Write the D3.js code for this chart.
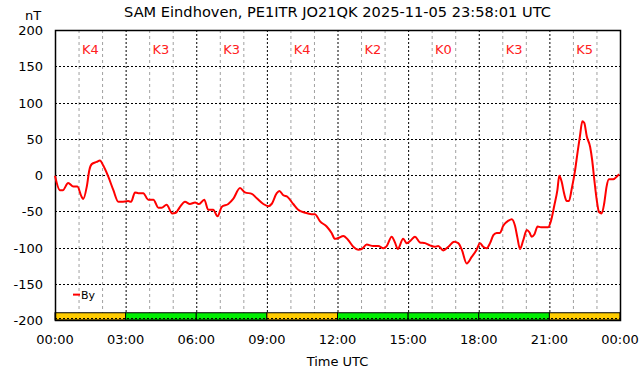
<!DOCTYPE html>
<html>
<head>
<meta charset="utf-8">
<script src="https://cdn.jsdelivr.net/npm/d3@7"></script>
<style>
    body { margin: 0; background: #fff; }
    svg { font-family: 'DejaVu Sans', sans-serif; }
</style>
</head>
<body>
<div id="chart"></div>
<script>
// By component, hours since 00:00 UTC and nT
let byHours = [
    0.00, 0.21, 0.33, 0.56, 0.78, 0.95, 1.13, 1.20, 1.35, 1.46, 1.56, 1.77, 1.91, 2.05, 2.26, 2.48, 2.69, 2.83,
    3.11, 3.23, 3.40, 3.54, 3.75, 3.96, 4.18, 4.39, 4.53, 4.74, 4.98, 5.13, 5.31, 5.52, 5.73, 5.95, 6.12, 6.34,
    6.51, 6.72, 6.91, 7.08, 7.36, 7.57, 7.86, 8.07, 8.36, 8.57, 8.85, 9.06, 9.20, 9.42, 9.53, 9.70, 9.87, 10.12,
    10.33, 10.62, 10.90, 11.04, 11.26, 11.54, 11.75, 11.89, 12.03, 12.25, 12.46, 12.67, 12.88, 13.03, 13.24, 13.52,
    13.73, 13.95, 14.09, 14.30, 14.44, 14.56, 14.79, 14.94, 15.12, 15.29, 15.50, 15.72, 15.93, 16.14, 16.28, 16.49,
    16.71, 16.95, 17.13, 17.28, 17.49, 17.70, 17.91, 18.05, 18.19, 18.34, 18.48, 18.62, 18.76, 18.90, 19.04, 19.26,
    19.40, 19.54, 19.64, 19.75, 19.89, 20.04, 20.15, 20.25, 20.36, 20.50, 20.64, 20.95, 21.07, 21.21, 21.34, 21.42,
    21.52, 21.63, 21.74, 21.83, 21.95, 22.09, 22.20, 22.30, 22.40, 22.48, 22.59, 22.73, 22.82, 22.91, 23.01, 23.11,
    23.22, 23.33, 23.43, 23.53, 23.71, 23.93, 23.97,
];
let byValues = [
    -1, -21, -21, -11, -16, -16, -30, -33, -16, 7, 15, 18, 20, 13, -2, -21, -37, -37,
    -36, -37, -24, -25, -25, -34, -34, -45, -45, -41, -53, -52, -44, -37, -40, -38, -40, -34,
    -48, -48, -57, -44, -40, -33, -18, -24, -26, -32, -40, -43, -40, -25, -22, -28, -30, -40,
    -48, -52, -54, -54, -64, -71, -80, -88, -87, -84, -90, -99, -103, -102, -96, -98,
    -98, -101, -98, -85, -93, -102, -88, -94, -90, -85, -93, -94, -97, -99, -98, -104,
    -99, -92, -94, -103, -122, -113, -103, -94, -99, -101, -94, -83, -80, -80, -70, -63,
    -61, -70, -86, -102, -90, -76, -79, -85, -82, -71, -72, -72, -63, -42, -21, -1,
    -9, -26, -36, -36, -19, 6, 32, 54, 74, 72, 53, 39, 20, -7, -34, -51,
    -53, -39, -16, -6, -6, 0, 1,
];

// K index per 3 hour block
let kIndex = [4, 3, 3, 4, 2, 0, 3, 5];
let xTickLabels = ['00:00', '03:00', '06:00', '09:00', '12:00', '15:00', '18:00', '21:00', '00:00'];
let yTicks = [-200, -150, -100, -50, 0, 50, 100, 150, 200];

let title = 'SAM Eindhoven, PE1ITR JO21QK 2025-11-05 23:58:01 UTC';

let margin = { top: 30, right: 22, bottom: 56, left: 55 };
let width = 642 - margin.left - margin.right;
let height = 376 - margin.top - margin.bottom;

let svg = d3.select('#chart').append('svg').attr('width', 642).attr('height', 376);

let g = svg.append('g').attr('transform', `translate(${margin.left},${margin.top})`);

let x = d3.scaleLinear().domain([0, 24]).range([0, width]);
let y = d3.scaleLinear().domain([-200, 200]).range([height, 0]);

// minor grid every hour
g.append('g')
    .selectAll('line')
    .data(d3.range(1, 24).filter((h) => h % 3 !== 0))
    .join('line')
    .attr('x1', (d) => x(d) + 0.5)
    .attr('x2', (d) => x(d) + 0.5)
    .attr('y1', 0)
    .attr('y2', height)
    .attr('stroke', '#a0a0a0')
    .attr('stroke-dasharray', '3,3');

// major grid
g.append('g')
    .selectAll('line')
    .data(d3.range(3, 24, 3))
    .join('line')
    .attr('x1', (d) => x(d) + 0.5)
    .attr('x2', (d) => x(d) + 0.5)
    .attr('y1', 0)
    .attr('y2', height)
    .attr('stroke', '#000')
    .attr('stroke-dasharray', '2,2');

g.append('g')
    .selectAll('line')
    .data(yTicks.slice(0, -1))
    .join('line')
    .attr('x1', 0)
    .attr('x2', width)
    .attr('y1', (d) => Math.round(y(d)) + 0.5)
    .attr('y2', (d) => Math.round(y(d)) + 0.5)
    .attr('stroke', '#000')
    .attr('stroke-dasharray', '2,2');

// K index band
let band = g.append('g');
band.selectAll('rect')
    .data(kIndex)
    .join('rect')
    .attr('x', (d, i) => x(i * 3))
    .attr('width', x(3) - x(0))
    .attr('y', y(-190))
    .attr('height', y(-200) - y(-190))
    .attr('fill', (d) => (d >= 4 ? '#ffcc00' : '#00ee00'))
    .attr('stroke', '#000')
    .attr('stroke-width', 1);

band.append('line')
    .attr('x1', 0)
    .attr('x2', width)
    .attr('y1', Math.round(y(-200)) - 1.5)
    .attr('y2', Math.round(y(-200)) - 1.5)
    .attr('stroke', '#000')
    .attr('stroke-dasharray', '2,2');

// K labels
g.append('g')
    .selectAll('text')
    .data(kIndex)
    .join('text')
    .attr('x', (d, i) => x(i * 3 + 1.5))
    .attr('y', 24)
    .attr('text-anchor', 'middle')
    .attr('fill', '#ff2020')
    .attr('font-size', 13)
    .text((d) => 'K' + d);

// border
g.append('rect')
    .attr('x', 0.5)
    .attr('y', 0.5)
    .attr('width', width)
    .attr('height', height)
    .attr('fill', 'none')
    .attr('stroke', '#000')
    .attr('stroke-width', 1.5);

// By line
let byData = byHours.map((h, i) => ({ h: h, v: byValues[i] }));
let line = d3
    .line()
    .curve(d3.curveMonotoneX)
    .x((d) => x(d.h))
    .y((d) => y(d.v));

g.append('path')
    .datum(byData)
    .attr('d', line)
    .attr('fill', 'none')
    .attr('stroke', '#ff0000')
    .attr('stroke-width', 2);

// axes labels
g.append('g')
    .selectAll('text')
    .data(yTicks)
    .join('text')
    .attr('x', -12)
    .attr('y', (d) => y(d) + 5)
    .attr('text-anchor', 'end')
    .attr('font-size', 13)
    .attr('fill', '#000')
    .text((d) => d);

g.append('g')
    .selectAll('text')
    .data(xTickLabels)
    .join('text')
    .attr('x', (d, i) => x(i * 3))
    .attr('y', height + 24)
    .attr('text-anchor', 'middle')
    .attr('font-size', 13)
    .attr('fill', '#000')
    .text((d) => d);

svg.append('text')
    .attr('x', margin.left + width / 2)
    .attr('y', 366)
    .attr('text-anchor', 'middle')
    .attr('font-size', 13)
    .text('Time UTC');

svg.append('text')
    .attr('x', 33)
    .attr('y', 20)
    .attr('text-anchor', 'middle')
    .attr('font-size', 13)
    .text('nT');

svg.append('text')
    .attr('x', margin.left + width / 2)
    .attr('y', 17)
    .attr('text-anchor', 'middle')
    .attr('font-size', 14.6)
    .text(title);

// legend
let legend = g.append('g').attr('transform', `translate(18,${y(-165)})`);
legend.append('line').attr('x1', 0).attr('x2', 7).attr('y1', 0).attr('y2', 0).attr('stroke', '#ff0000').attr('stroke-width', 2);
legend.append('text').attr('x', 8).attr('y', 4).attr('font-size', 11).text('By');
</script>
</body>
</html>
